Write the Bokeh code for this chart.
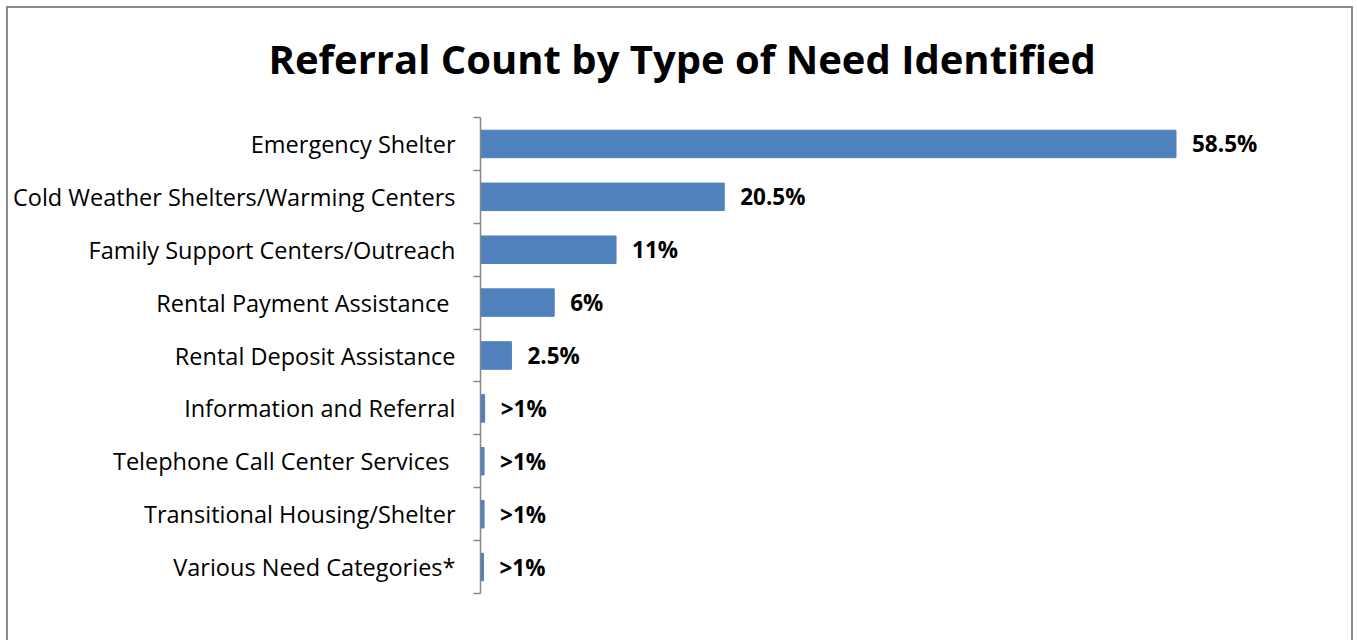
from bokeh.plotting import figure
from bokeh.models import Range1d, LinearAxis, FixedTicker, ColumnDataSource
from bokeh.core.properties import value
from bokeh.embed import file_html
from bokeh.resources import INLINE

categories = [
    "Emergency Shelter",
    "Cold Weather Shelters/Warming Centers",
    "Family Support Centers/Outreach",
    "Rental Payment Assistance ",
    "Rental Deposit Assistance",
    "Information and Referral",
    "Telephone Call Center Services ",
    "Transitional Housing/Shelter",
    "Various Need Categories*",
]
percent_values = [58.5, 20.5, 11.4, 6.2, 2.6, 0.35, 0.3, 0.3, 0.25]
value_labels = ["58.5%", "20.5%", "11%", "6%", "2.5%", ">1%", ">1%", ">1%", ">1%"]
chart_title = "Referral Count by Type of Need Identified"

FONT = "Open Sans"
BORDER = "#8c8c8c"
n = len(categories)
idx = list(range(n))

p = figure(
    width=1347, height=640,
    x_range=Range1d(0, 72.0), y_range=Range1d(n - 0.5, -0.5),
    output_backend="svg", toolbar_location=None,
    x_axis_location=None, y_axis_location=None,
    min_border_left=474, min_border_right=17,
    min_border_top=117, min_border_bottom=47,
)
g = f"linear-gradient({BORDER},{BORDER})"
p.styles = {
    "margin-left": "6px",
    "background": (f"{g} 0 6px / 100% 2px no-repeat, "
                   f"{g} 0 6px / 2px 100% no-repeat, "
                   f"{g} 100% 6px / 2px 100% no-repeat"),
}
p.border_fill_color = None
p.background_fill_color = None
p.outline_line_color = None
p.xgrid.visible = False
p.ygrid.visible = False

p.title.text = chart_title
p.title.align = "left"
p.title.vertical_align = "top"
p.title.text_font = FONT
p.title.text_font_size = "40px"
p.title.text_font_style = "bold"
p.title.text_color = "#000000"
p.title.offset = -212
p.title.standoff = 59

yaxis = LinearAxis(
    ticker=FixedTicker(ticks=idx, minor_ticks=[i - 0.5 for i in range(n + 1)]),
    major_label_overrides={i: c for i, c in enumerate(categories)},
)
yaxis.axis_line_color = "#868686"
yaxis.axis_line_width = 1.5
yaxis.major_tick_out = 0
yaxis.major_tick_in = 0
yaxis.minor_tick_out = 7
yaxis.minor_tick_in = 0
yaxis.minor_tick_line_color = "#868686"
yaxis.minor_tick_line_width = 1.5
yaxis.major_label_standoff = 18
yaxis.major_label_text_font = FONT
yaxis.major_label_text_font_size = "23.5px"
yaxis.major_label_text_color = "#000000"
p.add_layout(yaxis, "left")

src = ColumnDataSource(dict(y=idx, v=percent_values, lab=value_labels))
p.hbar(y="y", right="v", left=0, height=0.52, source=src,
       fill_color="#4F81BD", line_color="#4F81BD")
p.text(x="v", y="y", text="lab", source=src, x_offset=16,
       text_baseline="middle", text_align="left",
       text_font=value(FONT), text_font_style="bold",
       text_font_size="22.5px", text_color="#000000")

open("out.html", "w").write(file_html(p, INLINE))
